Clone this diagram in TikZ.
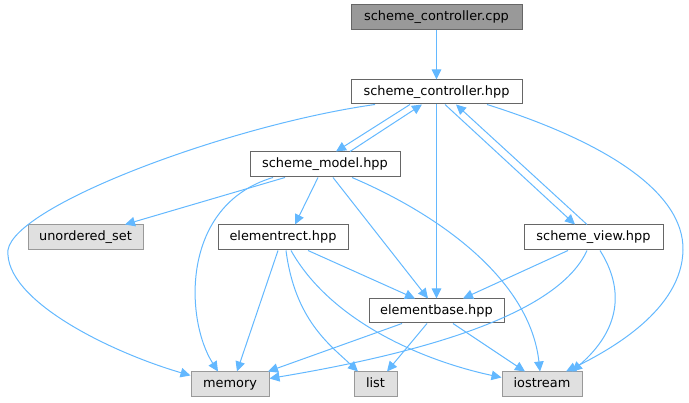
\documentclass[tikz,border=0pt]{standalone}
\usepackage{fontspec}
\setmainfont{DejaVu Sans}
\usetikzlibrary{arrows.meta}
\definecolor{edgec}{HTML}{63B8FF}
\definecolor{bordc}{HTML}{666666}
\definecolor{sysb}{HTML}{999999}
\definecolor{sysf}{HTML}{E0E0E0}
\definecolor{srcf}{HTML}{999999}
\tikzset{
  box/.style={draw=bordc, fill=white, line width=1pt, inner sep=0pt, minimum height=25pt,
    font=\fontsize{12.9}{15}\selectfont, text height=9.5pt, text depth=2.8pt, anchor=center},
  srcbox/.style={box, fill=srcf},
  sysbox/.style={box, draw=sysb, fill=sysf},
  dep/.style={draw=edgec, line width=1pt, -{Triangle[length=10pt,width=9.5pt]}}
}
\begin{document}
\begin{tikzpicture}[x=1pt,y=-1pt]
\useasboundingbox (0,0) rectangle (689,403);
\node[srcbox, minimum width=171pt] (cpp) at (436.5,17.5) {scheme\_controller.cpp};
\node[box, minimum width=171pt, minimum height=24pt] (ctrl) at (436.5,92) {scheme\_controller.hpp};
\node[box, minimum width=150pt] (model) at (325,164.5) {scheme\_model.hpp};
\node[sysbox, minimum width=115pt] (uset) at (85.5,237.5) {unordered\_set};
\node[box, minimum width=130pt] (erect) at (283,237.5) {elementrect.hpp};
\node[box, minimum width=139pt] (view) at (593.5,237.5) {scheme\_view.hpp};
\node[box, minimum width=135pt, minimum height=24pt] (ebase) at (436.5,311) {elementbase.hpp};
\node[sysbox, minimum width=78pt] (memory) at (230,384.5) {memory};
\node[sysbox, minimum width=43pt] (list) at (375.5,384.5) {list};
\node[sysbox, minimum width=80pt] (iostream) at (542,384.5) {iostream};

% edges
\draw[dep] (cpp.south) -- (ctrl.north);
\draw[dep] ([xshift=-61.5]ctrl.south) .. controls (230,125) and (15,205) .. (8,250)
  .. controls (4,300) and (110,352) .. ([yshift=9]memory.west);
\draw[dep] ([xshift=-26.5]ctrl.south) -- ([xshift=11]model.north);
\draw[dep] ([xshift=25]model.north) -- ([xshift=-14.5]ctrl.south);
\draw[dep] (ctrl.south) -- (ebase.north);
\draw[dep] ([xshift=8.5]ctrl.south) -- ([xshift=-18.5]view.north);
\draw[dep] ([xshift=-6.5]view.north) -- ([xshift=19.5]ctrl.south);
\draw[dep] ([xshift=50.5]ctrl.south) .. controls (600,140) and (684,190) .. (683,250)
  .. controls (682,310) and (610,350) .. ([xshift=24]iostream.north);
\draw[dep] ([xshift=-40]model.south) -- ([xshift=39.5]uset.north);
\draw[dep] ([xshift=-52]model.south) .. controls (180,205) and (185,320) .. ([xshift=-12]memory.north);
\draw[dep] ([xshift=-7]model.south) -- ([xshift=12]erect.north);
\draw[dep] ([xshift=8]model.south) -- ([xshift=-8.5]ebase.north);
\draw[dep] ([xshift=27]model.south) .. controls (440,215) and (530,280) .. ([xshift=-2]iostream.north);
\draw[dep] ([xshift=-5]erect.south) -- ([xshift=7]memory.north);
\draw[dep] ([xshift=3]erect.south) .. controls (295,320) and (330,345) .. ([xshift=-17.5]list.north);
\draw[dep] ([xshift=8]erect.south) .. controls (330,320) and (420,360) .. ([yshift=7]iostream.west);
\draw[dep] ([xshift=25]erect.south) -- ([xshift=-21.5]ebase.north);
\draw[dep] ([xshift=-25.5]view.south) -- ([xshift=26.5]ebase.north);
\draw[dep] ([xshift=-6.5]view.south) .. controls (560,310) and (440,350) .. ([yshift=6]memory.east);
\draw[dep] ([xshift=6.5]view.south) .. controls (625,290) and (620,330) .. ([xshift=30]iostream.north);
\draw[dep] ([xshift=-34.5]ebase.south) -- ([xshift=38]memory.north);
\draw[dep] ([xshift=-9.5]ebase.south) -- ([xshift=11.5]list.north);
\draw[dep] ([xshift=16.5]ebase.south) -- ([xshift=-17]iostream.north);
\end{tikzpicture}
\end{document}
